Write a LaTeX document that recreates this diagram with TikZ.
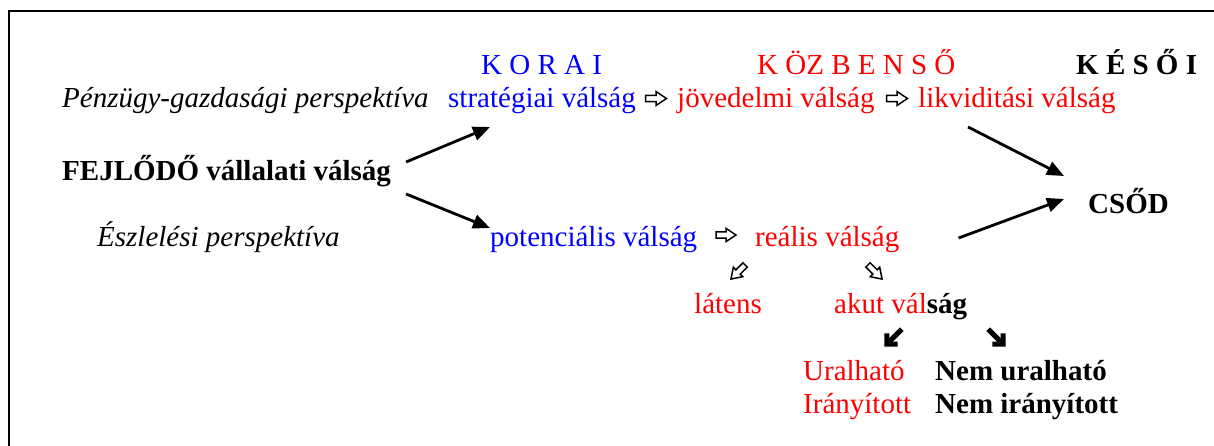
\documentclass[tikz,border=0pt]{standalone}
\usepackage{fontspec}
\setmainfont{Liberation Serif}
\usetikzlibrary{arrows.meta}
\definecolor{earlyblue}{RGB}{0,0,255}
\definecolor{midred}{RGB}{255,0,0}
\begin{document}
\begin{tikzpicture}[x=1pt,y=-1pt,
  txt/.style={inner sep=0pt, anchor=base west, font=\fontsize{29}{34}\selectfont},
  bold/.style={font=\fontsize{29}{34}\selectfont\bfseries},
  ital/.style={font=\fontsize{29}{34}\selectfont\itshape},
  flow/.style={line width=2.8pt, -{Triangle[length=17pt,width=14pt]}},
  hollow/.style={draw, line width=1.5pt, line join=miter, fill=white},
  hollowarrow/.pic={\draw[hollow] (-10.5,-3.2) -- (0,-3.2) -- (0,-7) -- (10.5,0) -- (0,7) -- (0,3.2) -- (-10.5,3.2) -- cycle;},
  heavyarrow/.pic={
    \draw[line width=5pt] (-11,0) -- (8,0);
    \draw[line width=5pt, line join=miter] (2.5,-7.5) -- (10,0) -- (2.5,7.5);},
]
\useasboundingbox (0,0) rectangle (1214,446);
% frame
\draw[line width=2.2pt] (1214,11) -- (9,11) -- (9,446);

% phase headings
\node[txt, text=earlyblue] (korai) at (481,75) {K O R A I};
\node[txt, text=midred] (kozb) at (757,75) {K ÖZ B E N S Ő};
\node[txt, bold] (kesoi) at (1076,75) {K É S Ő I};

% financial perspective
\node[txt, ital] (pgp) at (62,108) {Pénzügy-gazdasági perspektíva};
\node[txt, text=earlyblue] (strat) at (448,108) {stratégiai válság};
\node[txt, text=midred] (jov) at (677,108) {jövedelmi válság};
\node[txt, text=midred] (likv) at (918,108) {likviditási válság};
\pic at (656,98.5) {hollowarrow};
\pic at (897,98.5) {hollowarrow};

% origin and end
\node[txt, bold] (fejl) at (62,181) {FEJLŐDŐ vállalati válság};
\node[txt, bold] (csod) at (1088,214) {CSŐD};

% perception perspective
\node[txt, ital] (eszl) at (97,247) {Észlelési perspektíva};
\node[txt, text=earlyblue] (potenc) at (490,247) {potenciális válság};
\node[txt, text=midred] (realis) at (755,247) {reális válság};
\pic[scale=0.95] at (726,235) {hollowarrow};
\pic[rotate=-135, scale=0.95] at (738,272) {hollowarrow};
\pic[rotate=-45, scale=0.95] at (875,272) {hollowarrow};

\node[txt, text=midred] (latens) at (694,313) {látens};
\node[txt] (akut) at (834,313) {\textcolor{midred}{akut vál}\textbf{ság}};
\pic[rotate=-135] at (894,337) {heavyarrow};
\pic[rotate=-45] at (996,337) {heavyarrow};

\node[txt, text=midred] (uralh) at (803,380) {Uralható};
\node[txt, bold] (nemur) at (935,380) {Nem uralható};
\node[txt, text=midred] (iranyi) at (803,413) {Irányított};
\node[txt, bold] (nemir) at (935,413) {Nem irányított};

% connectors
\draw[flow] ([shift={(15,-19)}]fejl.base east) -- ([shift={(42,19)}]strat.base west);
\draw[flow] ([shift={(15,13)}]fejl.base east) -- ([shift={(0,-19)}]potenc.base west);
\draw[flow] ([shift={(50,19)}]likv.base west) -- ([shift={(-24,-38)}]csod.base west);
\draw[flow] ([shift={(59,-9)}]realis.base east) -- ([shift={(-24,-15)}]csod.base west);
\end{tikzpicture}
\end{document}
